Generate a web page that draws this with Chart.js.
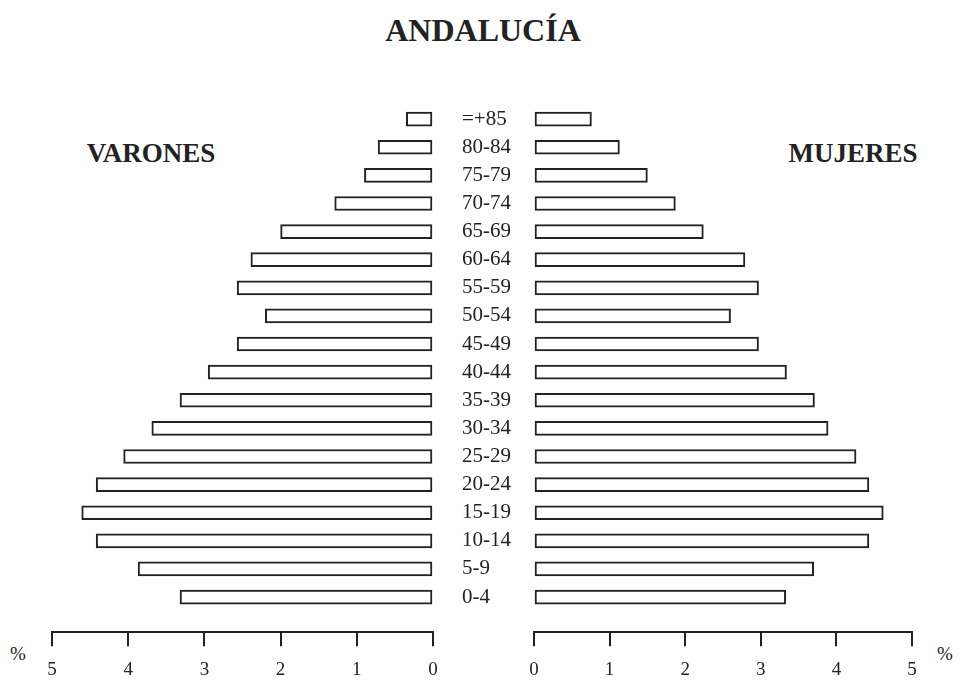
<!DOCTYPE html>
<html lang="es">
<head>
<meta charset="UTF-8">
<title>Andalucía</title>
<script src="https://cdn.jsdelivr.net/npm/chart.js"></script>
<style>
  body { margin: 0; background: #fff; }
  .page { position: relative; width: 962px; height: 688px; overflow: hidden; font-family: "Liberation Serif", "DejaVu Serif", serif; color: #222; }
  .txt { position: absolute; line-height: 1; white-space: nowrap; transform: translate(-50%, -50%); }
  .bold { font-weight: bold; }
  .side { position: absolute; top: 0; height: 702px; }
</style>
</head>
<body>
<div class="page">
  <div class="txt bold" style="left:483px; top:30px; font-size:32px;">ANDALUCÍA</div>
  <div class="txt bold" style="left:151px; top:153px; font-size:27px;">VARONES</div>
  <div class="txt bold" style="left:853px; top:153px; font-size:27px;">MUJERES</div>
  <div class="txt" style="left:18px; top:653px; font-size:19px;">%</div>
  <div class="txt" style="left:945px; top:653px; font-size:19px;">%</div>
  <div class="side" style="left:0; width:480px;"><canvas id="varones"></canvas></div>
  <div class="side" style="left:440px; width:522px;"><canvas id="mujeres"></canvas></div>
</div>

<script>
  // Grupos de edad, de arriba abajo
  const ageGroups = ['=+85', '80-84', '75-79', '70-74', '65-69', '60-64', '55-59', '50-54', '45-49',
    '40-44', '35-39', '30-34', '25-29', '20-24', '15-19', '10-14', '5-9', '0-4'];

  // Porcentaje de población (%)
  const varones = [0.35, 0.72, 0.9, 1.29, 2.0, 2.39, 2.57, 2.2, 2.57,
    2.95, 3.32, 3.69, 4.06, 4.42, 4.61, 4.42, 3.87, 3.32];
  const mujeres = [0.76, 1.13, 1.5, 1.87, 2.24, 2.79, 2.97, 2.6, 2.97,
    3.34, 3.71, 3.89, 4.26, 4.43, 4.62, 4.43, 3.7, 3.33];

  const axisTicks = [0, 1, 2, 3, 4, 5];

  const ink = '#222';

  function rows(values) {
    return values.map((v, i) => ({ x: v, y: i }));
  }

  function xAxis(reverse) {
    return {
      type: 'linear',
      reverse: reverse,
      min: 0,
      max: 5,
      offset: false,
      afterBuildTicks: s => { s.ticks = axisTicks.map(v => ({ value: v })); },
      grid: { drawOnChartArea: false, drawTicks: true, tickLength: 14, color: ink, lineWidth: 2 },
      border: { display: true, color: ink, width: 2 },
      ticks: { color: ink, padding: 12, font: { family: 'Liberation Serif', size: 19 } }
    };
  }

  function yAxis(show) {
    return {
      type: 'linear',
      reverse: true,
      min: -1,
      max: 18.25,
      offset: false,
      display: show,
      afterBuildTicks: s => { s.ticks = ageGroups.map((g, i) => ({ value: i })); },
      afterFit: s => { if (show) s.width = 72; },
      grid: { display: false },
      border: { display: false },
      ticks: {
        crossAlign: 'far',
        color: ink,
        font: { family: 'Liberation Serif', size: 21 },
        callback: v => ageGroups[v]
      }
    };
  }

  function pyramidSide(id, values, reverse, padding) {
    new Chart(document.getElementById(id), {
      type: 'bar',
      data: {
        datasets: [{
          data: rows(values),
          backgroundColor: '#fff',
          borderColor: ink,
          borderWidth: 2,
          borderSkipped: false,
          barThickness: 14
        }]
      },
      options: {
        indexAxis: 'y',
        responsive: true,
        maintainAspectRatio: false,
        animation: false,
        layout: { padding: padding },
        plugins: { legend: { display: false }, tooltip: { enabled: false } },
        scales: {
          x: xAxis(reverse),
          y: yAxis(!reverse)
        }
      }
    });
  }

  pyramidSide('varones', varones, true, { left: 52, right: 47, top: 91, bottom: 9 });
  pyramidSide('mujeres', mujeres, false, { left: 22, right: 50, top: 91, bottom: 9 });
</script>
</body>
</html>
